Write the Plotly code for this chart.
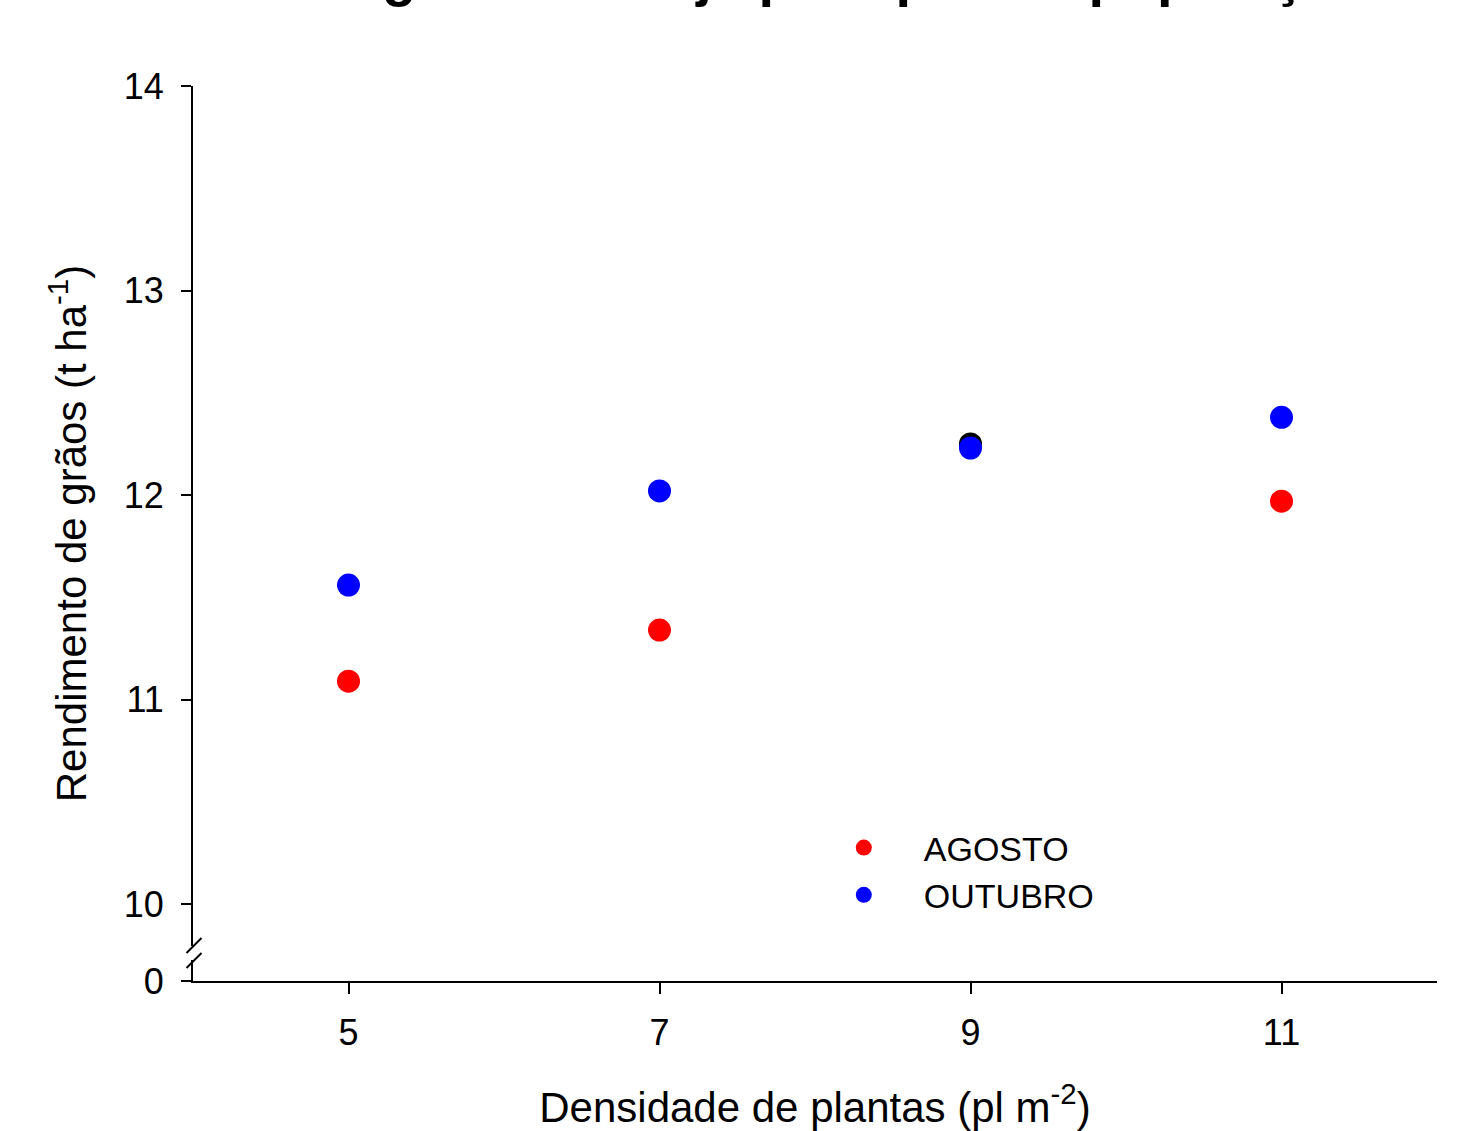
import plotly.graph_objects as go

densidade = [5, 7, 9, 11]
agosto = [11.09, 11.34, 12.25, 11.97]
outubro = [11.56, 12.02, 12.23, 12.38]
agosto_colors = ["#ff0000", "#ff0000", "#000000", "#ff0000"]

y_ticks_main = [10, 11, 12, 13, 14]
x_ticks = [5, 7, 9, 11]

FONT = "Arial, Liberation Sans, sans-serif"

fig = go.Figure()
fig.add_trace(go.Scatter(
    x=densidade, y=agosto, mode="markers", name="AGOSTO",
    marker=dict(size=23, color=agosto_colors, line=dict(width=0)),
    showlegend=False,
))
fig.add_trace(go.Scatter(
    x=[None], y=[None], mode="markers", name="AGOSTO",
    marker=dict(size=23, color="#ff0000"),
))
fig.add_trace(go.Scatter(
    x=densidade, y=outubro, mode="markers", name="OUTUBRO",
    marker=dict(size=23, color="#0000ff", line=dict(width=0)),
))
# hidden trace to create the lower (broken) axis segment
fig.add_trace(go.Scatter(x=[None], y=[None], yaxis="y2", showlegend=False, hoverinfo="skip"))

fig.update_layout(
    width=1464, height=1131,
    paper_bgcolor="white", plot_bgcolor="white",
    margin=dict(l=193, r=27, t=86, b=150),
    font=dict(family=FONT, color="black", size=36),
    xaxis=dict(
        range=[4, 12], tickvals=x_ticks, showgrid=False, zeroline=False,
        showline=True, linecolor="black", linewidth=2, anchor="y2",
        ticks="outside", ticklen=11, tickwidth=2, tickcolor="black",
        ticklabelstandoff=8, automargin=False,
        title=dict(text="Densidade de plantas (pl m<sup>-2</sup>)", font=dict(size=42), standoff=46),
    ),
    yaxis=dict(
        domain=[0.0391, 1], range=[9.795, 14], tickvals=y_ticks_main,
        showgrid=False, zeroline=False, showline=True, linecolor="black", linewidth=2,
        ticks="outside", ticklen=10, tickwidth=2, tickcolor="black",
        ticklabelstandoff=10, automargin=False,
        title=dict(text="Rendimento de grãos (t ha<sup>-1</sup>)&nbsp;&nbsp;&nbsp;",
                   font=dict(size=42), standoff=24),
    ),
    yaxis2=dict(
        domain=[0, 0.0235], range=[0, 1], tickvals=[0],
        showgrid=False, zeroline=False, showline=True, linecolor="black", linewidth=2,
        ticks="outside", ticklen=10, tickwidth=2, tickcolor="black",
        ticklabelstandoff=10, anchor="x", automargin=False,
    ),
    legend=dict(
        x=0.491, y=0.181, xanchor="left", yanchor="top",
        font=dict(size=34), bgcolor="rgba(0,0,0,0)", itemwidth=110,
        tracegroupgap=0,
    ),
    annotations=[dict(
        text="<b>Rendimento de grãos de soja por época e população</b>",
        font=dict(size=56, family=FONT),
        xref="paper", yref="paper", x=0.38, y=1,
        xanchor="center", yanchor="bottom", yshift=77, showarrow=False,
    )],
)

# axis break marks
for y0, y1 in [(953, 938), (968, 953)]:
    fig.add_shape(type="line", xref="paper", yref="paper",
                  x0=(186.5 - 193) / 1244, x1=(201.5 - 193) / 1244,
                  y0=(981 - y0) / 895, y1=(981 - y1) / 895,
                  line=dict(color="black", width=2))

fig.write_html("out.html")
